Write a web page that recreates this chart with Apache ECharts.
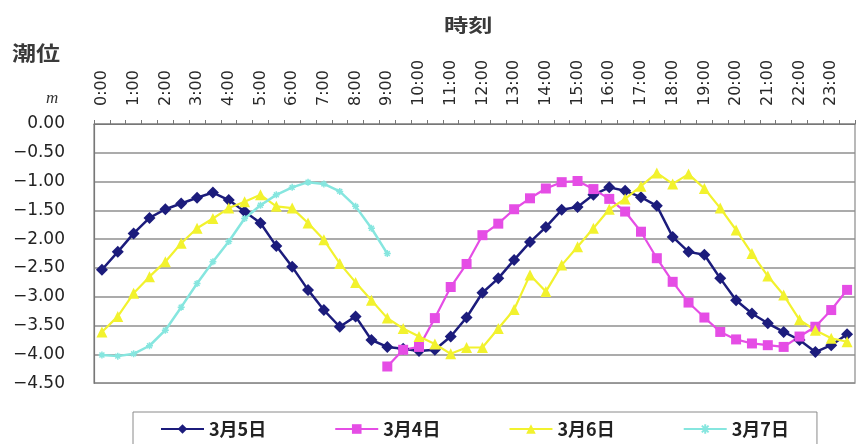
<!DOCTYPE html>
<html>
<head>
<meta charset="utf-8">
<script src="https://cdn.jsdelivr.net/npm/echarts@6/dist/echarts.min.js"></script>
<style>
  html, body { margin: 0; padding: 0; background: #fff; }
  #chart { width: 857px; height: 444px; }
</style>
</head>
<body>
<div id="chart"></div>
<script>
// Half-hourly tide level (m), 0:00 - 23:30
const times = [];
for (let h = 0; h < 24; h++) { times.push(h + ':00'); times.push(h + ':30'); }

const seriesNames = ['3月5日', '3月4日', '3月6日', '3月7日'];

const tideMar5 = [
  -2.53, -2.22, -1.90, -1.63, -1.48, -1.38, -1.28, -1.19, -1.32, -1.52,
  -1.72, -2.12, -2.48, -2.88, -3.23, -3.52, -3.34, -3.75, -3.87, -3.90,
  -3.94, -3.92, -3.69, -3.36, -2.93, -2.68, -2.36, -2.05, -1.79, -1.49,
  -1.44, -1.23, -1.10, -1.16, -1.27, -1.42, -1.96, -2.22, -2.27, -2.68,
  -3.06, -3.29, -3.46, -3.61, -3.75, -3.96, -3.84, -3.65
];

const tideMar4 = [
  null, null, null, null, null, null, null, null, null, null,
  null, null, null, null, null, null, null, null, -4.21, -3.92,
  -3.87, -3.37, -2.83, -2.43, -1.93, -1.73, -1.48, -1.29, -1.12, -1.01,
  -0.99, -1.13, -1.30, -1.52, -1.87, -2.33, -2.74, -3.10, -3.36, -3.61,
  -3.74, -3.81, -3.84, -3.87, -3.69, -3.52, -3.23, -2.88
];

const tideMar6 = [
  -3.61, -3.34, -2.94, -2.65, -2.39, -2.07, -1.81, -1.64, -1.46, -1.35,
  -1.23, -1.43, -1.46, -1.72, -2.01, -2.42, -2.75, -3.06, -3.37, -3.55,
  -3.69, -3.82, -3.99, -3.88, -3.88, -3.55, -3.22, -2.62, -2.91, -2.45,
  -2.13, -1.81, -1.48, -1.30, -1.08, -0.85, -1.04, -0.87, -1.12, -1.46,
  -1.84, -2.25, -2.64, -2.97, -3.40, -3.58, -3.72, -3.78
];

const tideMar7 = [
  -4.01, -4.03, -3.99, -3.85, -3.58, -3.18, -2.77, -2.39, -2.04, -1.64,
  -1.41, -1.23, -1.10, -1.01, -1.04, -1.17, -1.43, -1.81, -2.25
];

const yMin = -4.5, yMax = 0, yStep = 0.5;

const asterisk = 'path://M5,0L5,10M0,5L10,5M1.5,1.5L8.5,8.5M8.5,1.5L1.5,8.5';

function lineSeries(name, data, color, symbol, size, width) {
  return {
    name, type: 'line', data, symbol, symbolSize: size,
    showSymbol: true, showAllSymbol: true, connectNulls: false,
    lineStyle: { color, width },
    itemStyle: { color, borderColor: color, borderWidth: 0 },
    emphasis: { disabled: true }
  };
}

const chart = echarts.init(document.getElementById('chart'));
chart.setOption({
  animation: false,
  backgroundColor: '#fff',
  grid: {
    left: 94, right: 2, top: 124, bottom: 60.8,
    show: true, borderColor: '#8a8a8a', borderWidth: 1.2
  },
  xAxis: {
    type: 'category', position: 'top', data: times, boundaryGap: true,
    axisLine: { show: true, lineStyle: { color: '#777', width: 1.2 } },
    axisTick: { show: true, interval: 0, length: 4, lineStyle: { color: '#777' } },
    axisLabel: {
      interval: 1, rotate: 90, margin: 18,
      fontFamily: 'DejaVu Sans', fontSize: 16, color: '#2a2a2a'
    },
    splitLine: { show: false }
  },
  yAxis: {
    type: 'value', min: yMin, max: yMax, interval: yStep,
    axisLine: { show: true, lineStyle: { color: '#777', width: 1.2 } },
    axisTick: { show: false },
    axisLabel: {
      margin: 29, fontFamily: 'DejaVu Sans', fontSize: 17, color: '#222',
      formatter: v => (v < 0 ? '\u2212' : '') + Math.abs(v).toFixed(2)
    },
    splitLine: { show: true, lineStyle: { color: '#8f8f8f', width: 1.5 } }
  },
  legend: {
    data: seriesNames,
    left: 133, top: 412,
    padding: [8, 28, 40, 27],
    itemGap: 68, itemWidth: 43, itemHeight: 12,
    borderColor: '#8a8a8a', borderWidth: 1,
    textStyle: { fontFamily: 'Noto Sans CJK JP', fontSize: 18, fontWeight: 'bold', color: '#222' }
  },
  graphic: [
    { type: 'text', left: 12, top: 43, scaleX: 1.2,
      style: { text: '潮位', font: 'bold 20px "Noto Sans CJK JP"', fill: '#3a3a3a' } },
    { type: 'text', left: 444, top: 16, scaleX: 1.35,
      style: { text: '時刻', font: 'bold 18px "Noto Sans CJK JP"', fill: '#3a3a3a' } },
    { type: 'text', left: 46, top: 90,
      style: { text: 'm', font: 'italic 17px "Liberation Serif"', fill: '#333' } }
  ],
  series: [
    lineSeries(seriesNames[0], tideMar5, '#1c1c7c', 'diamond', 12, 2.5),
    lineSeries(seriesNames[1], tideMar4, '#e54de5', 'rect', 10, 2.2),
    lineSeries(seriesNames[2], tideMar6, '#f2f22e', 'triangle', 11, 2.2),
    Object.assign(lineSeries(seriesNames[3], tideMar7, '#86e6df', asterisk, 7, 2.5),
      { itemStyle: { color: 'none', borderColor: '#86e6df', borderWidth: 1.5 } })
  ]
});
</script>
</body>
</html>
